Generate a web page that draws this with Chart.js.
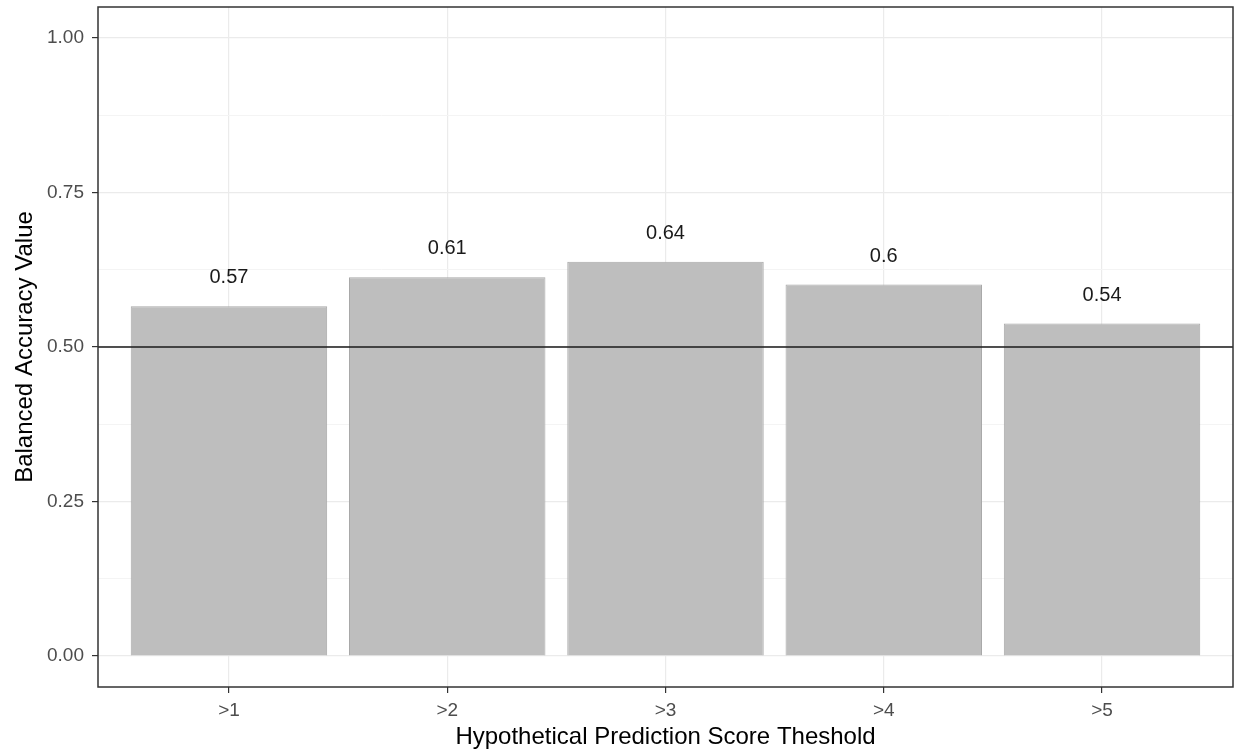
<!DOCTYPE html>
<html>
<head>
<meta charset="utf-8">
<script src="https://cdn.jsdelivr.net/npm/chart.js@4/dist/chart.umd.min.js"></script>
<style>
  html, body { margin: 0; padding: 0; background: #fff; }
  canvas { display: block; }
</style>
</head>
<body>
<canvas id="chart" width="1236" height="754"></canvas>
<script>
// data
const thresholds = [1, 2, 3, 4, 5];
const thresholdLabels = ['>1', '>2', '>3', '>4', '>5'];
const accuracy = [0.566, 0.613, 0.638, 0.601, 0.538];
const accuracyText = ['0.57', '0.61', '0.64', '0.6', '0.54'];
const yMajorTicks = [0, 0.25, 0.5, 0.75, 1];
const yMinorTicks = [0.125, 0.375, 0.625, 0.875];
const refLine = 0.5;

const FONT = '"Liberation Sans", Arial, sans-serif';
const isMajor = v => yMajorTicks.includes(v);

// panel border, reference line and the value labels
const extras = {
  id: 'extras',
  afterDatasetsDraw(chart) {
    const { ctx, chartArea: a, scales: { x, y } } = chart;
    ctx.save();
    // horizontal line at 0.5
    const y5 = y.getPixelForValue(refLine);
    ctx.strokeStyle = '#1a1a1a';
    ctx.lineWidth = 1.5;
    ctx.beginPath();
    ctx.moveTo(a.left, y5);
    ctx.lineTo(a.right, y5);
    ctx.stroke();

    // text above bars
    ctx.fillStyle = '#1a1a1a';
    ctx.font = '20px ' + FONT;
    ctx.textAlign = 'center';
    ctx.textBaseline = 'middle';
    thresholds.forEach((t, i) => {
      ctx.fillText(accuracyText[i], x.getPixelForValue(t), y.getPixelForValue(accuracy[i] + 0.046));
    });
    ctx.restore();
  },
  afterDraw(chart) {
    const { ctx, chartArea: a } = chart;
    ctx.save();
    ctx.strokeStyle = '#333333';
    ctx.lineWidth = 1.5;
    ctx.strokeRect(a.left, a.top, a.right - a.left, a.bottom - a.top);
    ctx.restore();
  }
};

new Chart(document.getElementById('chart'), {
  type: 'bar',
  data: {
    datasets: [{
      data: thresholds.map((t, i) => ({ x: t, y: accuracy[i] })),
      backgroundColor: '#BEBEBE',
      borderColor: '#A8A8A8',
      borderWidth: 1,
      barPercentage: 0.9,
      categoryPercentage: 1.0
    }]
  },
  options: {
    responsive: false,
    animation: false,
    layout: { padding: { top: 7, right: 3, left: 0, bottom: 0 } },
    plugins: {
      legend: { display: false },
      tooltip: { enabled: false }
    },
    scales: {
      x: {
        type: 'linear',
        min: 0.4,
        max: 5.6,
        offset: false,
        afterBuildTicks: s => { s.ticks = thresholds.map(v => ({ value: v })); },
        afterFit: s => { s.height = 67; },
        border: { display: false },
        grid: {
          offset: false,
          color: '#EBEBEB',
          lineWidth: 1.2,
          tickColor: '#333333',
          tickLength: 6
        },
        ticks: {
          padding: 6,
          color: '#4D4D4D',
          font: { family: FONT, size: 19 },
          callback: v => thresholdLabels[thresholds.indexOf(v)]
        },
        title: {
          display: true,
          text: 'Hypothetical Prediction Score Theshold',
          color: '#000',
          font: { family: FONT, size: 24 },
          padding: { top: 0, bottom: 2 }
        }
      },
      y: {
        min: -0.05,
        max: 1.05,
        afterBuildTicks: s => {
          s.ticks = yMajorTicks.concat(yMinorTicks).sort((a, b) => a - b).map(v => ({ value: v }));
        },
        afterFit: s => {
          s.width = 98;
          s.paddingTop = 0;
          s.paddingBottom = 0;
        },
        border: { display: false },
        grid: {
          color: c => isMajor(c.tick.value) ? '#EBEBEB' : '#F4F4F4',
          lineWidth: c => isMajor(c.tick.value) ? 1.2 : 1,
          tickColor: c => isMajor(c.tick.value) ? '#333333' : 'rgba(0,0,0,0)',
          tickLength: 6
        },
        ticks: {
          padding: 8,
          color: '#4D4D4D',
          font: { family: FONT, size: 19 },
          callback: v => isMajor(v) ? v.toFixed(2) : ''
        },
        title: {
          display: true,
          text: 'Balanced Accuracy Value',
          color: '#000',
          font: { family: FONT, size: 24 },
          padding: { top: 11, bottom: 0 }
        }
      }
    }
  },
  plugins: [extras]
});
</script>
</body>
</html>
